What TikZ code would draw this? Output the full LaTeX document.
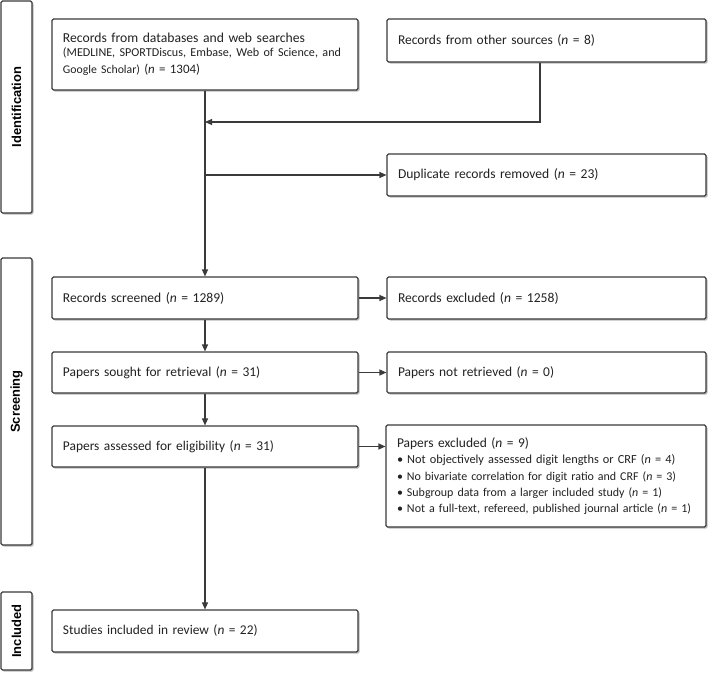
\documentclass[tikz,border=0pt]{standalone}
\usepackage{graphicx}
\usepackage{fontspec}
\setmainfont{Carlito}
\newfontfamily\phasefont{Liberation Sans}
\usetikzlibrary{arrows.meta,shadows}
\definecolor{bordc}{HTML}{3A3A3A}
\definecolor{txtc}{HTML}{222222}
\newlength\natw
\newcommand\fw[2]{\resizebox{#1bp}{!}{#2}}
\newcommand\mainsz{\fontsize{13.5}{16}\selectfont}
\newcommand\secsz{\fontsize{12.3}{15}\selectfont}
\tikzset{
  box/.style={draw=bordc, line width=1.1bp, rounded corners=1.5bp, fill=white,
    drop shadow={shadow xshift=1.6bp, shadow yshift=-1.6bp, fill=black!45, opacity=0.6},
    inner xsep=11bp, inner ysep=0bp, align=left, text=txtc,
    font=\mainsz},
  phase/.style={draw=bordc, line width=1.1bp, rounded corners=1.5bp, fill=white,
    drop shadow={shadow xshift=1.6bp, shadow yshift=-1.6bp, fill=black!45, opacity=0.6},
    inner sep=0bp},
  phasetext/.style={rotate=90, text=black, font=\phasefont\bfseries\fontsize{13}{15}\selectfont},
  arr/.style={draw=bordc, line width=1.1bp, -{Triangle[length=7bp,width=6bp]}},
  ln/.style={draw=bordc, line width=1.1bp},
}
\begin{document}
\begin{tikzpicture}[x=1bp,y=-1bp]
\useasboundingbox (0,0) rectangle (709,674);
% phase boxes
\node[phase, minimum width=31bp, minimum height=212bp] (pid) at (16.5,107) {};
\node[phasetext] (pidt) at (pid.center) {Identification};
\node[phase, minimum width=31bp, minimum height=287bp] (psc) at (16.5,401.5) {};
\node[phasetext] (psct) at (psc.center) {Screening};
\node[phase, minimum width=31bp, minimum height=78bp] (pin) at (16.5,631) {};
\node[phasetext] (pint) at (pin.center) {Included};

% main boxes
\node[box, text width=284bp, minimum height=71bp, font=\fontsize{13.5}{15.5}\selectfont] (db) at (205,54.5)
  {\fw{242}{Records from databases and web searches}\\[-1bp]
   \fw{278}{\secsz(MEDLINE, SPORTDiscus, Embase, Web of Science, and}\\[1.5bp]
   \fw{137}{{\secsz Google Scholar)} (\textit{n} = 1304)}};
\node[box, text width=297bp, minimum height=43bp] (oth) at (546.5,40.5)
  {\fw{197}{Records from other sources (\textit{n} = 8)}};
\node[box, text width=297bp, minimum height=42bp] (dup) at (546.5,175)
  {\fw{200.6}{Duplicate records removed (\textit{n} = 23)}};
\node[box, text width=284bp, minimum height=42bp] (scr) at (205,298)
  {\fw{161.3}{Records screened (\textit{n} = 1289)}};
\node[box, text width=297bp, minimum height=42bp] (exc) at (546.5,298)
  {\fw{160.6}{Records excluded (\textit{n} = 1258)}};
\node[box, text width=284bp, minimum height=41bp] (sou) at (205,372.5)
  {\fw{197.3}{Papers sought for retrieval (\textit{n} = 31)}};
\node[box, text width=297bp, minimum height=41bp] (nre) at (546.5,372.5)
  {\settowidth\natw{Papers sought for retrieval (\textit{n} = 31)}%
   \pgfmathsetmacro\mfac{197.3bp/\natw}%
   \scalebox{\mfac}{Papers not retrieved (\textit{n} = 0)}};
\node[box, text width=284bp, minimum height=41bp] (ass) at (205,446.5)
  {\fw{211}{Papers assessed for eligibility (\textit{n} = 31)}};
\node[box, text width=298bp, inner xsep=11bp, minimum height=102bp, font=\fontsize{12.3}{16.3}\selectfont] (pex) at (546,476)
  {\fw{132}{Papers excluded (\textit{n} = 9)}\\[0.5bp]
   \fw{278.3}{\textbullet\ Not objectively assessed digit lengths or CRF (\textit{n} = 4)}\\
   \fw{279}{\textbullet\ No bivariate correlation for digit ratio and CRF (\textit{n} = 3)}\\
   \fw{265}{\textbullet\ Subgroup data from a larger included study (\textit{n} = 1)}\\
   \fw{294}{\textbullet\ Not a full-text, refereed, published journal article (\textit{n} = 1)}};
\node[box, text width=284bp, minimum height=42bp] (inc) at (205,631)
  {\fw{194.6}{Studies included in review (\textit{n} = 22)}};

% connectors
\coordinate (j1) at (205,122);
\coordinate (j2) at (205,175);
\draw[ln] (db.south) -- (j1);
\draw[arr] (db.south) -- (scr.north);
\draw[arr] ([xshift=-6.5bp]oth.south) |- (j1);
\draw[arr] (j2) -- (dup.west);
\draw[arr] (scr.east) -- (exc.west);
\draw[arr] (scr.south) -- (sou.north);
\draw[arr] (sou.east) -- (nre.west);
\draw[arr] (sou.south) -- (ass.north);
\draw[arr] (ass.east) -- (pex.west |- ass.east);
\draw[arr] (ass.south) -- (inc.north);
\end{tikzpicture}
\end{document}
